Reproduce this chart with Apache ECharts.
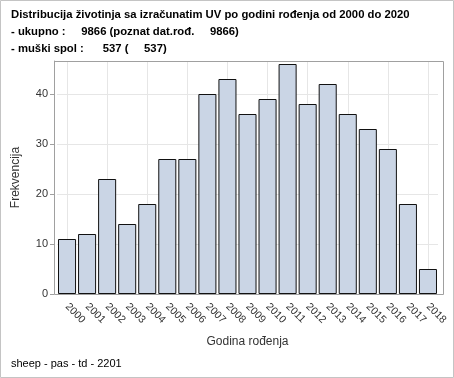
<!DOCTYPE html>
<html>
<head>
<meta charset="utf-8">
<script src="https://cdn.jsdelivr.net/npm/echarts@6/dist/echarts.min.js"></script>
<style>
  html, body { margin: 0; padding: 0; background: #fff; }
  #chart { width: 454px; height: 378px; }
</style>
</head>
<body>
<div id="chart"></div>
<script>
// data
var years = ['2000', '2001', '2002', '2003', '2004', '2005', '2006', '2007', '2008', '2009',
             '2010', '2011', '2012', '2013', '2014', '2015', '2016', '2017', '2018'];
var counts = [11, 12, 23, 14, 18, 27, 27, 40, 43, 36, 39, 46, 38, 42, 36, 33, 29, 18, 5];
var titleLines = [
  'Distribucija životinja sa izračunatim UV po godini rođenja od 2000 do 2020',
  '- ukupno :     9866 (poznat dat.rođ.     9866)',
  '- muški spol :      537 (     537)'
];
var footer = 'sheep - pas - td - 2201';

var font = '"Liberation Sans", Arial, sans-serif';
var chart = echarts.init(document.getElementById('chart'), null, { renderer: 'canvas' });

var graphics = [
  { type: 'rect', shape: { x: 0.5, y: 0.5, width: 453, height: 377 },
    style: { fill: 'none', stroke: '#c4c4c4', lineWidth: 1 }, silent: true },
  { type: 'rect', shape: { x: 54.5, y: 61.5, width: 389, height: 233 },
    style: { fill: 'none', stroke: '#a0a0a0', lineWidth: 1 }, silent: true, z: 10 },
  { type: 'text', left: 11, top: 358,
    style: { text: footer, font: '11px ' + font, fill: '#000' } }
];
titleLines.forEach(function (t, i) {
  graphics.push({ type: 'text', left: 11, top: 9 + i * 17,
    style: { text: t, font: 'bold 11.3px ' + font, fill: '#000' } });
});

var option = {
  animation: false,
  backgroundColor: '#fff',
  textStyle: { fontFamily: font },
  grid: { left: 57, right: 16, top: 61, bottom: 84 },
  xAxis: [
    {
      type: 'category',
      data: years,
      name: 'Godina rođenja',
      nameLocation: 'middle',
      nameGap: 42,
      nameTextStyle: { fontSize: 12, color: '#333' },
      axisLine: { lineStyle: { color: '#a0a0a0' } },
      axisTick: { alignWithLabel: true, length: 4, lineStyle: { color: '#a0a0a0' } },
      axisLabel: { rotate: -45, fontSize: 10.5, color: '#333', margin: 11, interval: 0 },
      splitLine: { show: false },
      z: 3
    },
    {
      // vertical grid lines at the category centres
      type: 'category',
      data: years,
      position: 'bottom',
      axisLine: { show: true, lineStyle: { color: 'rgba(0,0,0,0)' } },
      axisLabel: { show: false },
      axisTick: { show: true, inside: true, alignWithLabel: true, length: 232,
        lineStyle: { color: '#e6e6e6', width: 1 } },
      splitLine: { show: false },
      z: 0
    }
  ],
  yAxis: {
    type: 'value',
    min: 0,
    max: 46.6,
    interval: 10,
    offset: 3,
    name: 'Frekvencija',
    nameLocation: 'middle',
    nameGap: 32,
    nameTextStyle: { fontSize: 12, color: '#333' },
    axisLine: { show: true, lineStyle: { color: '#a0a0a0' } },
    axisTick: { show: true, length: 4, lineStyle: { color: '#a0a0a0' } },
    axisLabel: { fontSize: 11, color: '#333', margin: 6, showMaxLabel: false },
    splitLine: { lineStyle: { color: '#e6e6e6', width: 1 } }
  },
  series: [{
    type: 'bar',
    data: counts,
    barCategoryGap: '10%',
    itemStyle: { color: '#cad5e5', borderColor: '#111', borderWidth: 1 }
  }],
  graphic: graphics
};
chart.setOption(option);
</script>
</body>
</html>
